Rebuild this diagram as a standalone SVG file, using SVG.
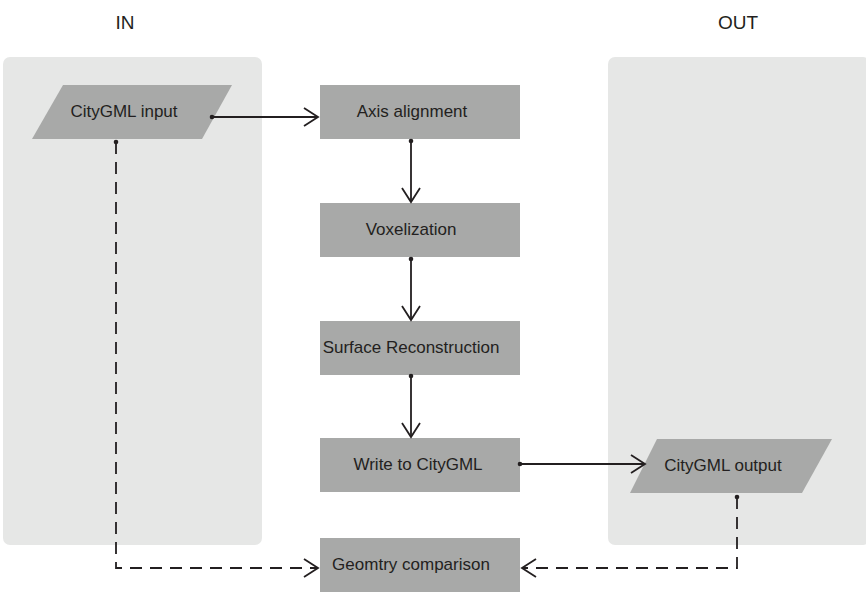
<svg xmlns="http://www.w3.org/2000/svg" width="866" height="592" viewBox="0 0 866 592">
<defs>
<marker id="arr" markerWidth="18" markerHeight="22" refX="15" refY="11" orient="auto" markerUnits="userSpaceOnUse">
<path d="M1,2 L15,11 L1,20" fill="none" stroke="#231f20" stroke-width="1.8"/>
</marker>
<marker id="dot" markerWidth="6" markerHeight="6" refX="3" refY="3" markerUnits="userSpaceOnUse">
<circle cx="3" cy="3" r="2.3" fill="#231f20"/>
</marker>
</defs>
<style>
.panel{fill:#e6e7e6}
.box{fill:#a8a9a8}
.t{font-family:"Liberation Sans",Arial,sans-serif;font-size:17px;fill:#231f20}
.h{font-family:"Liberation Sans",Arial,sans-serif;font-size:19px;fill:#231f20}
.c{fill:none;stroke:#231f20;stroke-width:1.8}
.d{stroke-dasharray:12 8}
</style>
<rect class="panel" x="3" y="57" width="259" height="488" rx="7"/>
<rect class="panel" x="608" y="57" width="262" height="488" rx="7"/>
<text class="h" x="125" y="29" text-anchor="middle">IN</text>
<text class="h" x="738" y="29" text-anchor="middle">OUT</text>
<g id="cityinput"><polygon class="box" points="63,85 232,85 202,139 32,139"/><text class="t" x="124" y="117" text-anchor="middle">CityGML input</text></g>
<g id="axis"><rect class="box" x="320" y="85" width="200" height="54"/><text class="t" x="412" y="117" text-anchor="middle">Axis alignment</text></g>
<g id="vox"><rect class="box" x="320" y="203" width="200" height="54"/><text class="t" x="411" y="235" text-anchor="middle">Voxelization</text></g>
<g id="surf"><rect class="box" x="320" y="321" width="200" height="54"/><text class="t" x="411" y="353" text-anchor="middle">Surface Reconstruction</text></g>
<g id="write"><rect class="box" x="320" y="438" width="200" height="54"/><text class="t" x="418" y="470" text-anchor="middle">Write to CityGML</text></g>
<g id="geom"><rect class="box" x="320" y="538" width="200" height="54"/><text class="t" x="411" y="570" text-anchor="middle">Geomtry comparison</text></g>
<g id="cityoutput"><polygon class="box" points="657,439 832,439 802,493 630,493"/><text class="t" x="723" y="471" text-anchor="middle">CityGML output</text></g>
<g id="connectors">
<path class="c" d="M212,117 H318" marker-start="url(#dot)" marker-end="url(#arr)"/>
<path class="c" d="M411,141 V202" marker-start="url(#dot)" marker-end="url(#arr)"/>
<path class="c" d="M411,259 V320" marker-start="url(#dot)" marker-end="url(#arr)"/>
<path class="c" d="M411,376 V437" marker-start="url(#dot)" marker-end="url(#arr)"/>
<path class="c" d="M520,464 H645" marker-start="url(#dot)" marker-end="url(#arr)"/>
<path class="c d" d="M116,142 V568 H318" marker-start="url(#dot)" marker-end="url(#arr)"/>
<path class="c d" d="M737,497 V568 H522" marker-start="url(#dot)" marker-end="url(#arr)"/>
</g>
</svg>
